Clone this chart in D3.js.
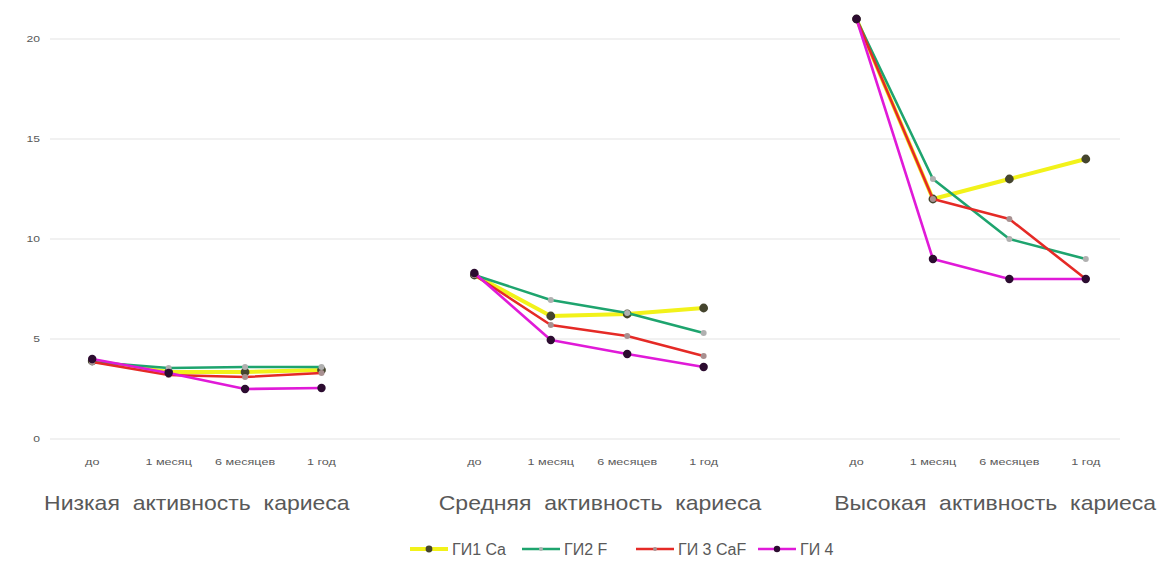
<!DOCTYPE html>
<html>
<head>
<meta charset="utf-8">
<script src="https://cdn.jsdelivr.net/npm/d3@7"></script>
<style>
  html, body { margin: 0; padding: 0; background: #fff; }
  svg { display: block; font-family: "Liberation Sans", Arial, sans-serif; }
</style>
</head>
<body>
<svg id="chart" width="1168" height="571"></svg>
<script>
// --- data ---
const periods = ["до", "1 месяц", "6 месяцев", "1 год"];
const groups = ["Низкая  активность  кариеса", "Средняя  активность  кариеса", "Высокая  активность  кариеса"];
const yTicks = [0, 5, 10, 15, 20];

const gi1Ca  = [[3.9, 3.35, 3.35, 3.45], [8.2, 6.15, 6.25, 6.55], [21, 12, 13, 14]];
const gi2F   = [[3.85, 3.55, 3.6, 3.6], [8.2, 6.95, 6.3, 5.3], [21, 13, 10, 9]];
const gi3CaF = [[3.85, 3.2, 3.1, 3.3], [8.2, 5.7, 5.15, 4.15], [21, 12, 11, 8]];
const gi4    = [[4.0, 3.3, 2.5, 2.55], [8.3, 4.95, 4.25, 3.6], [21, 9, 8, 8]];

const seriesNames = ["ГИ1 Ca", "ГИ2 F", "ГИ 3 CaF", "ГИ 4"];
const seriesData = [gi1Ca, gi2F, gi3CaF, gi4];

// styling per series (line colour, width, marker colour, marker radius)
const styles = [
  { color: "#f2f21a", width: 4,   mark: "#45452e", r: 4.4 },
  { color: "#1ea46e", width: 2.6, mark: "#b0b0b0", r: 3 },
  { color: "#e52a26", width: 2.6, mark: "#a89090", r: 3 },
  { color: "#e01ad8", width: 2.6, mark: "#2c0c30", r: 4.2 }
];

const d3 = window.d3;
const svg = d3.select("#chart");
const plot = { left: 54, right: 1124, top: 39, bottom: 439 };

// 4 periods per group, one blank slot between groups
const slots = [];
groups.forEach((g, gi) => {
  periods.forEach((p, pi) => slots.push(`${gi}-${pi}`));
  if (gi < groups.length - 1) slots.push(`gap-${gi}`);
});

const x = d3.scaleBand().domain(slots).range([plot.left, plot.right]);
const xc = key => x(key) + x.bandwidth() / 2;
const y = d3.scaleLinear().domain([0, 20]).range([plot.bottom, plot.top]);

const textColor = "#595959";

// gridlines
svg.append("g")
  .selectAll("line")
  .data(yTicks)
  .join("line")
  .attr("x1", plot.left - 4).attr("x2", plot.right - 4)
  .attr("y1", d => y(d)).attr("y2", d => y(d))
  .attr("stroke", "#e3e3e3").attr("stroke-width", 1);

// y tick labels (the picture is stretched sideways, so scale the glyphs)
svg.append("g")
  .selectAll("text")
  .data(yTicks)
  .join("text")
  .attr("transform", d => `translate(40,${y(d) + 3}) scale(1.35,1)`)
  .attr("text-anchor", "end")
  .attr("font-size", 9)
  .attr("fill", textColor)
  .text(d => d);

// x tick labels + group labels
const groupShift = [-10, 11, 24];
const xLab = svg.append("g");
groups.forEach((g, gi) => {
  periods.forEach((p, pi) => {
    xLab.append("text")
      .attr("transform", `translate(${xc(`${gi}-${pi}`)},465) scale(1.4,1)`)
      .attr("text-anchor", "middle")
      .attr("font-size", 9)
      .attr("fill", textColor)
      .text(p);
  });
  const mid = (xc(`${gi}-0`) + xc(`${gi}-3`)) / 2 + groupShift[gi];
  svg.append("text")
    .attr("transform", `translate(${mid},510) scale(1.15,1)`)
    .attr("text-anchor", "middle")
    .attr("font-size", 20)
    .attr("fill", textColor)
    .style("white-space", "pre")
    .text(g);
});

// lines and markers
const line = d3.line().x(d => xc(d.key)).y(d => y(d.v));

seriesData.forEach((s, si) => {
  const st = styles[si];
  const gS = svg.append("g");
  s.forEach((vals, gi) => {
    const pts = vals.map((v, pi) => ({ key: `${gi}-${pi}`, v }));
    gS.append("path")
      .datum(pts)
      .attr("d", line)
      .attr("fill", "none")
      .attr("stroke", st.color)
      .attr("stroke-width", st.width)
      .attr("stroke-linejoin", "round");
    gS.selectAll(null)
      .data(pts)
      .join("circle")
      .attr("cx", d => xc(d.key))
      .attr("cy", d => y(d.v))
      .attr("r", st.r)
      .attr("fill", st.mark);
  });
});

// legend
const legendX = [410, 522, 636, 758];
const lg = svg.append("g").attr("transform", "translate(0,549)");
seriesNames.forEach((name, i) => {
  const st = styles[i];
  const g = lg.append("g").attr("transform", `translate(${legendX[i]},0)`);
  g.append("line")
    .attr("x1", 0).attr("x2", 38)
    .attr("stroke", st.color).attr("stroke-width", st.width);
  g.append("circle").attr("cx", 19).attr("r", st.r - 1).attr("fill", st.mark);
  g.append("text")
    .attr("x", 42).attr("y", 6)
    .attr("font-size", 16)
    .attr("fill", textColor)
    .text(name);
});
</script>
</body>
</html>
